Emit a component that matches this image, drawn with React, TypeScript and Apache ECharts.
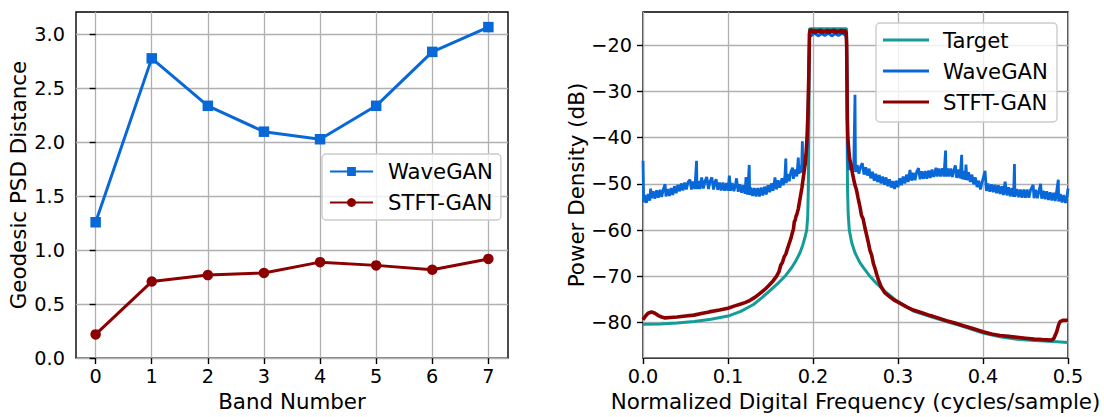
import React, { useEffect, useRef } from "react";
import * as echarts from "echarts";

// ---- Left panel data ----
const bands = [0, 1, 2, 3, 4, 5, 6, 7];
const waveganDist = [1.26, 2.78, 2.34, 2.1, 2.03, 2.34, 2.84, 3.07];
const stftganDist = [0.22, 0.71, 0.77, 0.79, 0.89, 0.86, 0.82, 0.92];
const leftYTicks = [0, 0.5, 1.0, 1.5, 2.0, 2.5, 3.0];

// ---- Right panel data ----
const freqTicks = [0, 0.1, 0.2, 0.3, 0.4, 0.5];
const psdTicks = [-80, -70, -60, -50, -40, -30, -20];

const targetPsd: [number, number][] = [
  [0.0, -80.4], [0.02, -80.3], [0.04, -80.1], [0.06, -79.8], [0.08, -79.3], [0.1, -78.6],
  [0.115, -77.6], [0.13, -76.1], [0.14, -74.6], [0.15, -73.0], [0.16, -71.3], [0.167, -70.0],
  [0.175, -68.1], [0.18, -66.6], [0.1847, -64.9], [0.188, -63.2], [0.1905, -61.6], [0.1926, -60.0],
  [0.1938, -57.0], [0.1945, -51.0], [0.195, -42.0], [0.1955, -28.0], [0.196, -16.4], [0.2395, -16.4],
  [0.24, -28.0], [0.2403, -42.0], [0.2406, -51.0], [0.2414, -56.5], [0.2427, -60.0], [0.2455, -62.7],
  [0.2494, -64.9], [0.255, -67.0], [0.26, -68.3], [0.267, -70.0], [0.275, -71.6], [0.285, -73.3],
  [0.2985, -75.3], [0.31, -76.6], [0.318, -77.5], [0.338, -78.7], [0.357, -79.8], [0.377, -80.9],
  [0.4, -82.3], [0.42, -83.1], [0.44, -83.6], [0.46, -83.9], [0.483, -84.1], [0.5, -84.3],
];

const waveganPsd: [number, number][] = [
  [0.0, -45.0], [0.0008, -54.0], [0.002, -52.4], [0.004, -54.1], [0.006, -52.2], [0.008, -53.6],
  [0.009, -51.0], [0.01, -53.1], [0.012, -51.6], [0.014, -53.2], [0.016, -51.4], [0.018, -53.0],
  [0.02, -51.3], [0.022, -52.8], [0.024, -51.1], [0.026, -50.1], [0.027, -52.7], [0.029, -51.1],
  [0.031, -52.6], [0.033, -50.9], [0.035, -52.4], [0.037, -50.5], [0.039, -52.0], [0.041, -50.2],
  [0.043, -51.6], [0.045, -49.9], [0.047, -51.4], [0.049, -49.7], [0.051, -51.2], [0.053, -49.6],
  [0.0553, -49.1], [0.057, -51.2], [0.059, -49.5], [0.061, -51.1], [0.063, -45.0], [0.0635, -51.1],
  [0.065, -49.4], [0.067, -51.1], [0.069, -48.6], [0.071, -51.0], [0.073, -49.4], [0.075, -48.5],
  [0.077, -51.1], [0.079, -49.4], [0.081, -48.6], [0.083, -51.2], [0.085, -49.5], [0.086, -49.0],
  [0.088, -51.3], [0.09, -49.7], [0.092, -51.4], [0.094, -49.7], [0.096, -51.5], [0.098, -49.8],
  [0.1, -51.5], [0.1016, -48.2], [0.103, -51.5], [0.105, -49.8], [0.107, -51.6], [0.109, -49.9],
  [0.11, -48.8], [0.112, -51.7], [0.114, -50.1], [0.116, -51.9], [0.118, -50.3], [0.12, -52.1],
  [0.1212, -48.5], [0.123, -52.3], [0.125, -45.9], [0.1255, -52.4], [0.127, -50.8], [0.129, -52.6],
  [0.131, -50.9], [0.133, -52.7], [0.135, -50.9], [0.137, -52.7], [0.139, -50.8], [0.141, -52.5],
  [0.143, -50.6], [0.145, -52.3], [0.147, -50.3], [0.149, -51.8], [0.151, -49.9], [0.153, -51.5],
  [0.1553, -48.6], [0.157, -51.2], [0.159, -49.2], [0.161, -50.8], [0.1635, -48.8], [0.165, -50.3],
  [0.167, -48.3], [0.168, -44.5], [0.1685, -49.8], [0.17, -47.9], [0.172, -49.4], [0.174, -47.4],
  [0.176, -46.5], [0.177, -48.9], [0.179, -46.9], [0.181, -48.4], [0.1827, -44.3], [0.1835, -47.8],
  [0.185, -46.0], [0.1865, -47.6], [0.1875, -40.8], [0.188, -46.7], [0.19, -44.8], [0.1915, -46.0],
  [0.193, -42.0], [0.194, -35.0], [0.195, -26.0], [0.1958, -18.2], [0.198, -17.9], [0.202, -17.4],
  [0.206, -18.0], [0.21, -17.5], [0.214, -17.9], [0.218, -17.4], [0.222, -18.0], [0.226, -17.5],
  [0.23, -17.9], [0.234, -17.4], [0.238, -17.8], [0.2395, -18.5], [0.2402, -32.0], [0.2408, -44.5],
  [0.242, -47.0], [0.244, -45.4], [0.246, -47.2], [0.248, -45.8], [0.2494, -30.7], [0.25, -47.4],
  [0.252, -45.9], [0.254, -47.8], [0.256, -46.2], [0.258, -45.5], [0.26, -48.0], [0.262, -46.4],
  [0.264, -48.2], [0.266, -46.7], [0.268, -48.8], [0.27, -47.4], [0.272, -49.3], [0.274, -47.8],
  [0.276, -49.6], [0.278, -48.1], [0.28, -49.9], [0.282, -48.4], [0.284, -50.2], [0.286, -48.6],
  [0.288, -50.5], [0.29, -49.0], [0.292, -50.8], [0.294, -49.4], [0.296, -51.1], [0.298, -49.3],
  [0.3, -50.7], [0.302, -48.8], [0.304, -50.3], [0.306, -48.4], [0.308, -49.9], [0.31, -48.0],
  [0.312, -49.6], [0.3141, -47.0], [0.316, -49.3], [0.318, -47.6], [0.32, -49.2], [0.322, -47.4],
  [0.3241, -46.6], [0.326, -49.0], [0.328, -47.3], [0.33, -48.9], [0.332, -47.2], [0.334, -48.9],
  [0.336, -47.1], [0.338, -48.7], [0.34, -46.9], [0.342, -48.5], [0.3447, -46.5], [0.346, -48.4],
  [0.348, -46.7], [0.35, -48.4], [0.352, -46.6], [0.354, -48.4], [0.356, -42.8], [0.3565, -48.4],
  [0.358, -46.6], [0.36, -48.4], [0.362, -46.7], [0.364, -48.5], [0.366, -46.8], [0.3675, -46.0],
  [0.369, -48.7], [0.371, -46.9], [0.373, -48.8], [0.3749, -43.7], [0.3755, -49.0], [0.377, -47.2],
  [0.379, -49.1], [0.38, -45.8], [0.381, -49.2], [0.383, -47.5], [0.385, -49.6], [0.387, -48.0],
  [0.389, -50.1], [0.391, -48.6], [0.393, -50.7], [0.395, -49.3], [0.397, -51.2], [0.399, -49.6],
  [0.4024, -47.2], [0.404, -51.5], [0.406, -49.9], [0.408, -51.7], [0.41, -50.1], [0.412, -51.8],
  [0.414, -50.2], [0.416, -52.0], [0.418, -50.3], [0.42, -52.2], [0.422, -50.5], [0.424, -52.4],
  [0.426, -49.5], [0.428, -52.5], [0.43, -50.7], [0.432, -52.7], [0.434, -50.9], [0.436, -52.8],
  [0.437, -45.7], [0.4375, -52.8], [0.44, -51.1], [0.442, -52.9], [0.444, -51.2], [0.446, -53.0],
  [0.448, -51.2], [0.45, -53.0], [0.452, -51.2], [0.454, -53.0], [0.456, -51.3], [0.459, -50.2],
  [0.46, -53.1], [0.462, -51.3], [0.464, -53.1], [0.466, -51.4], [0.4678, -50.0], [0.469, -53.2],
  [0.471, -51.5], [0.473, -53.3], [0.475, -51.6], [0.477, -53.5], [0.479, -51.8], [0.481, -53.6],
  [0.483, -51.9], [0.485, -53.7], [0.4886, -49.1], [0.489, -53.8], [0.491, -52.2], [0.493, -54.0],
  [0.495, -52.4], [0.497, -54.1], [0.499, -52.6], [0.5, -51.0],
];

const stftganPsd: [number, number][] = [
  [0.0, -79.4], [0.003, -78.6], [0.006, -78.0], [0.01, -77.7], [0.014, -78.0], [0.018, -78.5],
  [0.022, -78.8], [0.026, -79.0], [0.032, -78.9], [0.04, -78.8], [0.05, -78.6], [0.06, -78.4],
  [0.07, -78.0], [0.078, -77.7], [0.09, -77.3], [0.1, -76.9], [0.108, -76.4], [0.115, -76.0],
  [0.12, -75.7], [0.126, -75.2], [0.132, -74.5], [0.1376, -73.7], [0.143, -72.9], [0.148, -72.0],
  [0.153, -71.0], [0.157, -70.0], [0.16, -69.0], [0.162, -67.6], [0.164, -67.0], [0.166, -65.8],
  [0.168, -65.2], [0.17, -64.0], [0.172, -62.9], [0.174, -61.8], [0.1755, -60.7], [0.177, -59.8],
  [0.178, -58.2], [0.179, -57.9], [0.18, -57.0], [0.181, -56.6], [0.1827, -55.4], [0.184, -54.0],
  [0.1855, -52.4], [0.187, -50.8], [0.1886, -48.6], [0.19, -46.8], [0.191, -45.0], [0.192, -43.0],
  [0.193, -40.0], [0.194, -35.0], [0.195, -27.0], [0.1958, -17.5], [0.197, -16.5], [0.199, -17.3],
  [0.201, -16.6], [0.203, -17.4], [0.205, -16.7], [0.207, -17.2], [0.209, -16.6], [0.211, -17.4],
  [0.213, -16.8], [0.215, -17.3], [0.217, -16.6], [0.219, -17.4], [0.221, -16.7], [0.223, -17.2],
  [0.225, -16.6], [0.227, -17.4], [0.229, -16.8], [0.231, -17.3], [0.233, -16.6], [0.235, -17.4],
  [0.237, -16.7], [0.239, -17.2], [0.2396, -20.0], [0.24, -28.0], [0.2404, -36.0], [0.241, -40.0],
  [0.242, -42.5], [0.243, -44.5], [0.2445, -45.6], [0.246, -47.3], [0.2474, -48.6], [0.249, -50.0],
  [0.251, -51.2], [0.253, -53.0], [0.2553, -55.0], [0.257, -56.8], [0.259, -57.6], [0.2612, -59.6],
  [0.263, -61.0], [0.265, -62.6], [0.267, -64.4], [0.269, -65.4], [0.271, -67.2], [0.273, -68.3],
  [0.275, -69.6], [0.277, -70.8], [0.28, -72.2], [0.2847, -73.6], [0.29, -74.4], [0.295, -75.1],
  [0.3, -75.6], [0.31, -76.6], [0.318, -77.3], [0.328, -77.9], [0.338, -78.5], [0.347, -79.0],
  [0.357, -79.6], [0.367, -80.1], [0.377, -80.7], [0.388, -81.3], [0.4, -82.0], [0.41, -82.5],
  [0.42, -82.8], [0.43, -83.0], [0.44, -83.2], [0.45, -83.4], [0.46, -83.6], [0.47, -83.7],
  [0.4808, -83.8], [0.4835, -83.4], [0.4867, -82.0], [0.489, -80.5], [0.4906, -79.8], [0.4945, -79.5],
  [0.5, -79.5],
];

const BLUE = "#0868d8";
const RED = "#8b0000";
const TEAL = "#169c98";
const FONT = "DejaVu Sans";
const TICK_FS = 19.3;
const TITLE_FS = 21.4;
const LEGEND_FS = 21.2;

function axisCommon(ticks: number[], fmt: (v: number) => string, margin: number) {
  return {
    axisLine: { show: false },
    axisTick: {
      show: true,
      customValues: ticks,
      length: 6,
      inside: false,
      lineStyle: { color: "#000", width: 1.4 },
    },
    axisLabel: {
      customValues: ticks,
      formatter: fmt,
      margin,
      fontSize: TICK_FS,
      color: "#000",
      fontFamily: FONT,
    },
    splitLine: { show: true, lineStyle: { color: "#b0b0b0", width: 1.3 } },
    nameLocation: "middle" as const,
    nameTextStyle: { fontSize: TITLE_FS, color: "#000", fontFamily: FONT },
  };
}

const minusFmt = (v: number) => (v < 0 ? "\u2212" + Math.abs(v) : String(v));

export default function App() {
  const ref = useRef<HTMLDivElement>(null);
  useEffect(() => {
    if (!ref.current) return;
    const chart = echarts.init(ref.current, undefined, { renderer: "svg" });
    const legendLines = [
      { name: "Target", color: TEAL, y: 40 },
      { name: "WaveGAN", color: BLUE, y: 71 },
      { name: "STFT-GAN", color: RED, y: 102 },
    ];
    chart.setOption({
      animation: false,
      backgroundColor: "#fff",
      textStyle: { fontFamily: FONT },
      grid: [
        { left: 76, top: 12, width: 432, height: 352, show: true, borderColor: "#000", borderWidth: 1.4, backgroundColor: "transparent" },
        { left: 643, top: 12, width: 425, height: 352, show: true, borderColor: "#000", borderWidth: 1.4, backgroundColor: "transparent" },
      ],
      xAxis: [
        {
          type: "value",
          gridIndex: 0,
          min: -0.35,
          max: 7.35,
          name: "Band Number",
          nameGap: 32,
          ...axisCommon(bands, (v: number) => String(v), 9),
        },
        {
          type: "value",
          gridIndex: 1,
          min: 0,
          max: 0.5,
          name: "Normalized Digital Frequency (cycles/sample)",
          nameGap: 32,
          ...axisCommon(freqTicks, (v: number) => v.toFixed(1), 9),
        },
      ],
      yAxis: [
        {
          type: "value",
          gridIndex: 0,
          min: 0,
          max: 3.21,
          name: "Geodesic PSD Distance",
          nameGap: 47,
          ...axisCommon(leftYTicks, (v: number) => v.toFixed(1), 11),
        },
        {
          type: "value",
          gridIndex: 1,
          min: -87.7,
          max: -12.8,
          name: "Power Density (dB)",
          nameGap: 55,
          ...axisCommon(psdTicks, minusFmt, 11),
        },
      ],
      legend: {
        data: ["WaveGAN", "STFT-GAN"],
        orient: "vertical",
        left: 322,
        top: 154,
        padding: [7, 8, 7, 7],
        itemGap: 10,
        itemWidth: 43,
        itemHeight: 11,
        backgroundColor: "rgba(255,255,255,0.8)",
        borderColor: "#cccccc",
        borderWidth: 1.4,
        borderRadius: 4,
        selectedMode: false,
        textStyle: { fontSize: LEGEND_FS, color: "#000", fontFamily: FONT, padding: [0, 0, 0, 10] },
      },
      graphic: [
        {
          type: "group",
          children: [
            {
              type: "rect",
              shape: { x: 876, y: 23, width: 181, height: 99, r: 4 },
              style: { fill: "rgba(255,255,255,0.8)", stroke: "#cccccc", lineWidth: 1.4 },
              z: 100,
            },
            ...legendLines.map((l) => ({
              type: "line",
              shape: { x1: 883, y1: l.y, x2: 929, y2: l.y },
              style: { stroke: l.color, lineWidth: 3.2 },
              z: 101,
            })),
            ...legendLines.map((l) => ({
              type: "text",
              x: 943,
              y: l.y,
              style: { text: l.name, fontSize: LEGEND_FS, fontFamily: FONT, fill: "#000", verticalAlign: "middle" },
              z: 101,
            })),
          ],
        },
      ],
      series: [
        {
          name: "WaveGAN",
          type: "line",
          xAxisIndex: 0,
          yAxisIndex: 0,
          data: bands.map((b, i) => [b, waveganDist[i]]),
          symbol: "rect",
          symbolSize: 10.5,
          lineStyle: { color: BLUE, width: 3 },
          itemStyle: { color: BLUE },
        },
        {
          name: "STFT-GAN",
          type: "line",
          xAxisIndex: 0,
          yAxisIndex: 0,
          data: bands.map((b, i) => [b, stftganDist[i]]),
          symbol: "circle",
          symbolSize: 10.5,
          lineStyle: { color: RED, width: 3 },
          itemStyle: { color: RED },
        },
        {
          name: "Target",
          type: "line",
          xAxisIndex: 1,
          yAxisIndex: 1,
          data: targetPsd,
          symbol: "none",
          lineStyle: { color: TEAL, width: 3 },
          itemStyle: { color: TEAL },
        },
        {
          name: "WaveGAN",
          type: "line",
          xAxisIndex: 1,
          yAxisIndex: 1,
          data: waveganPsd,
          symbol: "none",
          lineStyle: { color: BLUE, width: 2.8 },
          itemStyle: { color: BLUE },
        },
        {
          name: "STFT-GAN",
          type: "line",
          xAxisIndex: 1,
          yAxisIndex: 1,
          data: stftganPsd,
          symbol: "none",
          lineStyle: { color: RED, width: 3.6 },
          itemStyle: { color: RED },
        },
      ],
    });
    return () => chart.dispose();
  }, []);
  return (
    <div
      ref={ref}
      style={{ position: "absolute", left: 0, top: 0, width: 1104, height: 417, background: "#fff" }}
    />
  );
}
